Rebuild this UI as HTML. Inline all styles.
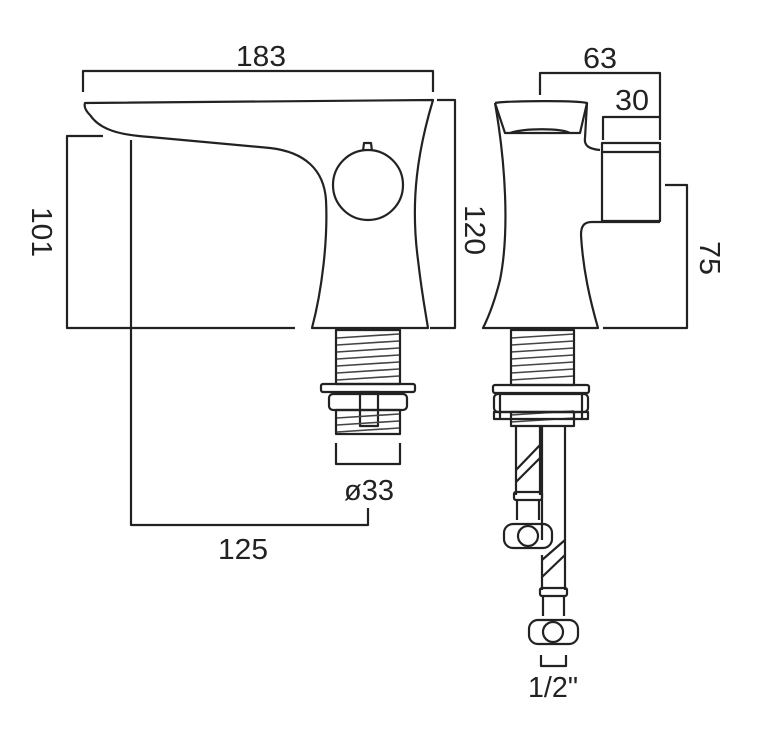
<!DOCTYPE html>
<html><head><style>html,body{margin:0;padding:0;background:#fff;}svg{display:block}</style></head>
<body>
<svg width="758" height="754" viewBox="0 0 758 754" xmlns="http://www.w3.org/2000/svg">
<rect width="758" height="754" fill="#fff"/>
<g fill="none" stroke="#222" stroke-width="2.2" stroke-linejoin="round">
<!-- LEFT VIEW dims -->
<polyline points="83,92 83,71 433,71 433,92"/>
<polyline points="103,136 67,136 67,328 295,328"/>
<polyline points="437,100 455,100 455,328 430,328"/>
<polyline points="131,140 131,525 368,525 368,508"/>
<polyline points="336,443 336,464 400,464 400,443"/>
<!-- left body -->
<path d="M85,103 L433,100 C418,150 410,200 418,260 C422,295 426,315 428,328 L312,328 C322,290 328,240 326,200 C324,170 305,152 270,148 L150,137 C120,135 100,130 90,115 C85,110 84,106 85,103 Z"/>
<circle cx="368" cy="185" r="35"/>
<path d="M363,151 L364,143 L371,143 L372,151"/>
<!-- left thread -->
<rect x="336" y="330" width="64" height="54" fill="#fff"/>
<rect x="321" y="384" width="94" height="8" rx="2"/>
<rect x="329" y="394" width="78" height="16" rx="4"/>
<rect x="336" y="410" width="64" height="24"/>
<rect x="360" y="392" width="18" height="34"/>
</g>
<g stroke="#444" stroke-width="1.6">
<line x1="337" y1="338" x2="399" y2="334"/><line x1="337" y1="345" x2="399" y2="341"/><line x1="337" y1="352" x2="399" y2="348"/><line x1="337" y1="359" x2="399" y2="355"/><line x1="337" y1="366" x2="399" y2="362"/><line x1="337" y1="373" x2="399" y2="369"/><line x1="337" y1="380" x2="399" y2="376"/>
<line x1="337" y1="418" x2="399" y2="414"/><line x1="337" y1="425" x2="399" y2="421"/><line x1="337" y1="432" x2="399" y2="428"/>
<line x1="511" y1="338" x2="574" y2="334"/><line x1="511" y1="345" x2="574" y2="341"/><line x1="511" y1="352" x2="574" y2="348"/><line x1="511" y1="359" x2="574" y2="355"/><line x1="511" y1="366" x2="574" y2="362"/><line x1="511" y1="373" x2="574" y2="369"/><line x1="511" y1="380" x2="574" y2="376"/>
<line x1="511" y1="415" x2="574" y2="411"/><line x1="511" y1="422" x2="574" y2="418"/>
</g>
<g fill="none" stroke="#222" stroke-width="2.2" stroke-linejoin="round">
<!-- RIGHT VIEW dims -->
<polyline points="540,95 540,73 660,73 660,140"/>
<polyline points="603,140 603,117 660,117"/>
<polyline points="665,185 687,185 687,328 603,328"/>
<polyline points="541,655 541,666 566,666 566,655"/>
<!-- right body -->
<path d="M495,103 C505,101 575,100 587,103 L585,138 C584,145 588,149 600,150"/>
<path d="M495,103 L505,133 L580,133 L587,103"/>
<path d="M510,133 C525,128 560,128 570,133"/>
<path d="M495,103 C505,160 510,230 500,280 C495,300 488,318 483,328 L598,328 C590,300 583,270 581,235 C581,226 584,222 592,222 L660,222"/>
<rect x="602" y="143" width="58" height="78"/>
<line x1="602" y1="152" x2="660" y2="152"/>
<!-- right thread -->
<rect x="511" y="330" width="63" height="55"/>
<rect x="493" y="385" width="96" height="8" rx="2"/>
<rect x="494" y="394" width="94" height="18" rx="4"/>
<rect x="494" y="412" width="94" height="7"/>
<rect x="511" y="412" width="63" height="14"/>
<line x1="500" y1="394" x2="500" y2="419"/><line x1="582" y1="394" x2="582" y2="419"/>
<!-- hoses -->
<line x1="516" y1="426" x2="516" y2="495"/>
<line x1="540" y1="426" x2="540" y2="495"/>
<line x1="542" y1="426" x2="542" y2="540"/>
<line x1="565" y1="426" x2="565" y2="540"/>
<line x1="516" y1="470" x2="540" y2="445"/>
<line x1="516" y1="482" x2="540" y2="458"/>
<rect x="514" y="492" width="28" height="8" rx="2"/>
<line x1="517" y1="500" x2="517" y2="520"/><line x1="539" y1="500" x2="539" y2="520"/>
<rect x="504" y="524" width="48" height="24" rx="9"/>
<circle cx="528" cy="536" r="10"/>
<line x1="542" y1="555" x2="542" y2="590"/>
<line x1="565" y1="540" x2="565" y2="590"/>
<line x1="542" y1="560" x2="565" y2="540"/>
<line x1="542" y1="577" x2="565" y2="555"/>
<rect x="540" y="588" width="27" height="8" rx="2"/>
<line x1="543" y1="596" x2="543" y2="616"/><line x1="564" y1="596" x2="564" y2="616"/>
<rect x="529" y="620" width="49" height="24" rx="9"/>
<circle cx="553" cy="632" r="10"/>
</g>
<g font-family="Liberation Sans, sans-serif" font-size="29" fill="#222" text-anchor="middle">
<text x="261" y="66" textLength="50" lengthAdjust="spacingAndGlyphs">183</text>
<text x="243" y="559" textLength="50" lengthAdjust="spacingAndGlyphs">125</text>
<text x="369" y="500" textLength="50" lengthAdjust="spacingAndGlyphs">ø33</text>
<text x="600" y="68" textLength="34" lengthAdjust="spacingAndGlyphs">63</text>
<text x="632" y="110" textLength="34" lengthAdjust="spacingAndGlyphs">30</text>
<text x="553" y="697" textLength="50" lengthAdjust="spacingAndGlyphs">1/2"</text>
<text transform="translate(32,232) rotate(90)" textLength="50" lengthAdjust="spacingAndGlyphs">101</text>
<text transform="translate(465,230) rotate(90)" textLength="50" lengthAdjust="spacingAndGlyphs">120</text>
<text transform="translate(700,258) rotate(90)" textLength="34" lengthAdjust="spacingAndGlyphs">75</text>
</g>
</svg>
</body></html>
